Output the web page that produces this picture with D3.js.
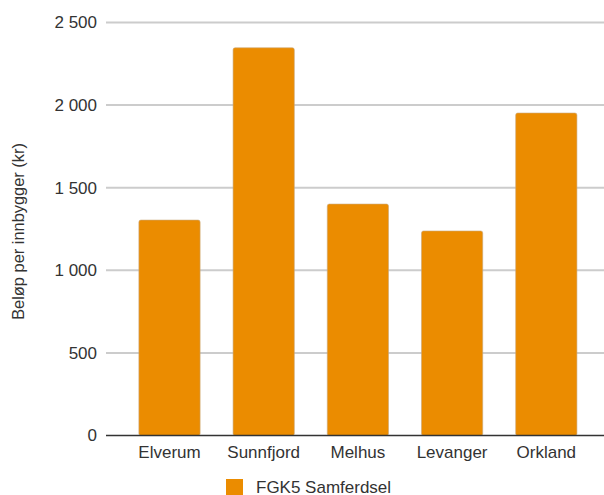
<!DOCTYPE html>
<meta charset="utf-8">
<style type="text/css">
    body {
        margin: 0;
        background: #fff;
    }
    text {
        font-family: "Liberation Sans", Arial, sans-serif;
        fill: #333;
    }
    svg {
        display: block;
    }
</style>
<body>
<script src="https://cdn.jsdelivr.net/npm/d3@7/dist/d3.min.js"></script>
<script>
// Data
var kommuner = ["Elverum", "Sunnfjord", "Melhus", "Levanger", "Orkland"];
var belop = [1304, 2347, 1401, 1238, 1952];
var yTicks = [0, 500, 1000, 1500, 2000, 2500];
var seriesName = "FGK5 Samferdsel";
var yTitle = "Beløp per innbygger (kr)";

var width = 604, height = 495;
var orange = "#eb8c00";

var svg = d3.select("body")
    .append("svg")
    .attr("width", width)
    .attr("height", height);

var x = d3.scaleBand()
    .domain(kommuner)
    .range([122.4, 593.4])
    .paddingInner(0.35)
    .paddingOuter(0.175);

var y = d3.scaleLinear()
    .domain([0, 2500])
    .range([435.5, 22.5]);

// number format with space as thousands separator
var fmt = function(v) {
    return d3.format(",")(v).replace(/,/g, " ");
};

// Gridlines
svg.append("g")
    .selectAll("line")
    .data(yTicks.filter(function(d) { return d > 0; }))
    .enter().append("line")
    .attr("x1", 106)
    .attr("x2", width)
    .attr("y1", function(d) { return y(d); })
    .attr("y2", function(d) { return y(d); })
    .attr("stroke", "#cccccc")
    .attr("stroke-width", 2);

// Y tick labels
svg.append("g")
    .selectAll("text")
    .data(yTicks)
    .enter().append("text")
    .attr("x", 97)
    .attr("y", function(d) { return y(d); })
    .attr("dy", "0.35em")
    .attr("text-anchor", "end")
    .style("font-size", "17px")
    .text(fmt);

// Bars
svg.append("g")
    .selectAll("rect")
    .data(kommuner)
    .enter().append("rect")
    .attr("x", function(d) { return x(d); })
    .attr("y", function(d, i) { return y(belop[i]); })
    .attr("width", x.bandwidth())
    .attr("height", function(d, i) { return y(0) - y(belop[i]); })
    .attr("rx", 2)
    .attr("fill", orange)
    .attr("stroke", "#c9a77a")
    .attr("stroke-width", 0.6);

// Baseline
svg.append("line")
    .attr("x1", 106)
    .attr("x2", width)
    .attr("y1", y(0))
    .attr("y2", y(0))
    .attr("stroke", "#333")
    .attr("stroke-width", 1.5);

// X labels
svg.append("g")
    .selectAll("text")
    .data(kommuner)
    .enter().append("text")
    .attr("x", function(d) { return x(d) + x.bandwidth() / 2; })
    .attr("y", 458)
    .attr("text-anchor", "middle")
    .style("font-size", "17px")
    .text(function(d) { return d; });

// Y axis title
svg.append("text")
    .attr("transform", "translate(24,231.5) rotate(-90)")
    .attr("text-anchor", "middle")
    .style("font-size", "16.4px")
    .text(yTitle);

// Legend
svg.append("rect")
    .attr("x", 226)
    .attr("y", 479)
    .attr("width", 17)
    .attr("height", 17)
    .attr("fill", orange);

svg.append("text")
    .attr("x", 256)
    .attr("y", 492.5)
    .style("font-size", "17px")
    .text(seriesName);
</script>
</body>
